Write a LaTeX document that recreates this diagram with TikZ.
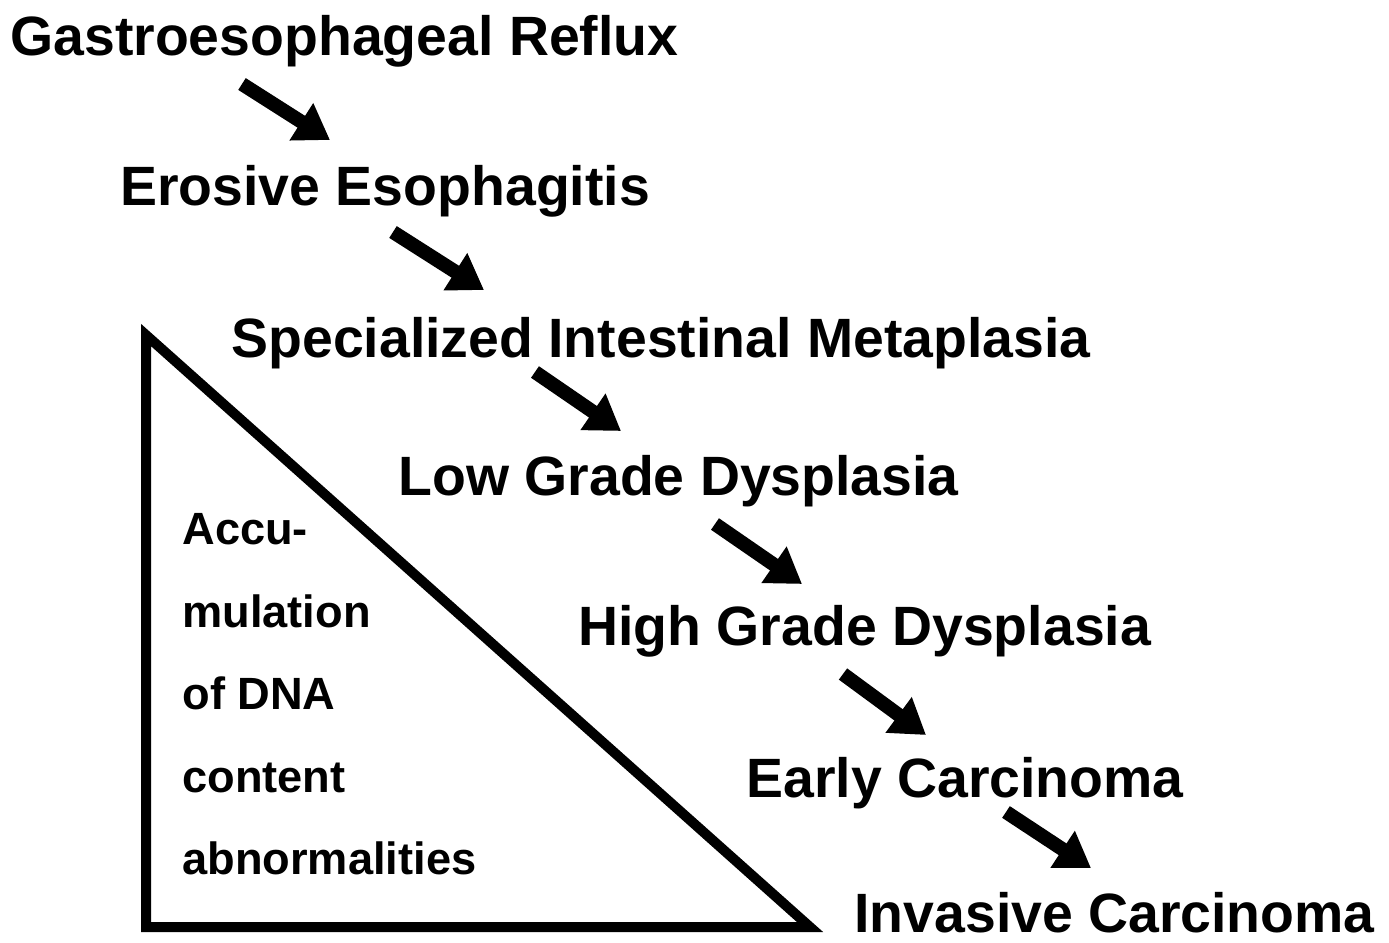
\documentclass[tikz,border=0pt]{standalone}
\usepackage{fontspec}
\setmainfont{Liberation Sans}
\usetikzlibrary{arrows.meta, calc}

\begin{document}
\begin{tikzpicture}[x=0.5pt, y=-0.5pt,
  etapa/.style={anchor=base west, inner sep=0pt,
                font=\fontsize{27.7}{33}\selectfont\bfseries},
  nota/.style={anchor=north west, inner sep=0pt, align=left,
               font=\fontsize{22.6}{41.25}\selectfont\bfseries},
  fl/.style={line width=7pt, -{Triangle[length=17pt, width=21pt]}},
  tri/.style={line width=5pt, line join=miter}]
\useasboundingbox (0,0) rectangle (1389,943);
\node[etapa] (reflujo) at (10,55) {Gastroesophageal Reflux};
\node[etapa] (erosiva) at (120,205) {Erosive Esophagitis};
\node[etapa] (metaplasia) at (231,357) {Specialized Intestinal Metaplasia};
\node[etapa] (bajo) at (398,495) {Low Grade Dysplasia};
\node[etapa] (alto) at (578,645) {High Grade Dysplasia};
\node[etapa] (temprano) at (746,797) {Early Carcinoma};
\node[etapa] (invasivo) at (854,932) {Invasive Carcinoma};
\draw[fl] ($(reflujo.base west)+(232,29)$) -- ($(erosiva.base west)+(210,-65)$);
\draw[fl] ($(erosiva.base west)+(273,27)$) -- ($(metaplasia.base west)+(253,-67)$);
\draw[fl] ($(metaplasia.base west)+(304,15)$) -- ($(bajo.base west)+(223,-64)$);
\draw[fl] ($(bajo.base west)+(317,29)$) -- ($(alto.base west)+(224,-61)$);
\draw[fl] ($(alto.base west)+(265,29)$) -- ($(temprano.base west)+(180,-62)$);
\draw[fl] ($(temprano.base west)+(260,15)$) -- ($(invasivo.base west)+(237,-64)$);
\draw[tri] (146,335) -- (146,927) -- (810,927) -- cycle;
\node[nota] (dna) at (182,513)
  {Accu-\\mulation\\of DNA\\content\\abnormalities};
\end{tikzpicture}
\end{document}
